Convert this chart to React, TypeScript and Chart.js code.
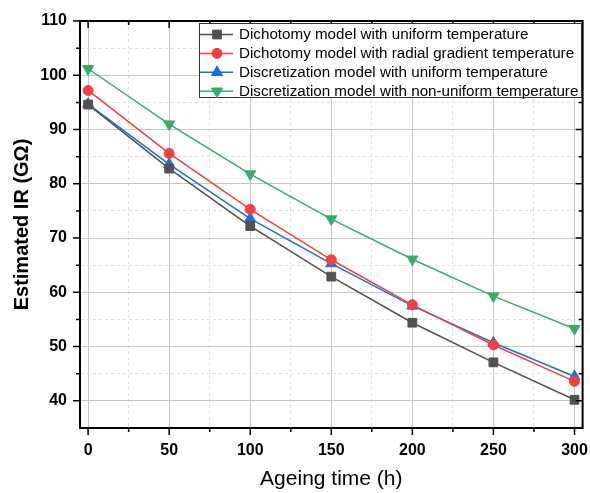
import React, { useEffect, useRef } from 'react';
import { Chart, registerables, PointElement } from 'chart.js';

Chart.register(...registerables);

const ageingTime = [0, 50, 100, 150, 200, 250, 300];
const dichotomyUniform = [94.6, 82.8, 72.2, 62.9, 54.4, 47.1, 40.2];
const dichotomyRadial = [97.2, 85.6, 75.3, 66.0, 57.7, 50.3, 43.6];
const discretizationUniform = [94.7, 83.6, 73.6, 65.3, 57.5, 50.7, 44.5];
const discretizationNonUniform = [101.2, 91.0, 81.8, 73.5, 66.1, 59.3, 53.3];

const seriesLabels = [
  'Dichotomy model with uniform temperature',
  'Dichotomy model with radial gradient temperature',
  'Discretization model with uniform temperature',
  'Discretization model with non-uniform temperature',
];
const seriesColors = ['#515151', '#F14040', '#1A6FDF', '#37AD6B'];

const xTickValues = [0, 25, 50, 75, 100, 125, 150, 175, 200, 225, 250, 275, 300];
const yTickValues = [40, 45, 50, 55, 60, 65, 70, 75, 80, 85, 90, 95, 100, 105, 110];

const FONT = '"Liberation Sans", Arial, Helvetica, sans-serif';

export default function App() {
  const ref = useRef<HTMLCanvasElement>(null);

  useEffect(() => {
    const canvas = ref.current;
    if (!canvas) return;

    const toPoints = (vals: number[]) => ageingTime.map((x, i) => ({ x, y: vals[i] }));
    const seriesValues = [dichotomyUniform, dichotomyRadial, discretizationUniform, discretizationNonUniform];
    const styles = [
      { pointStyle: 'rect', radius: 6.2, rotation: 0 },
      { pointStyle: 'circle', radius: 5, rotation: 0 },
      { pointStyle: 'triangle', radius: 6.4, rotation: 0 },
      { pointStyle: 'triangle', radius: 6.4, rotation: 180 },
    ];

    const datasets = seriesValues.map((vals, i) => ({
      label: seriesLabels[i],
      data: toPoints(vals),
      borderColor: seriesColors[i],
      backgroundColor: seriesColors[i],
      borderWidth: 1.5,
      pointStyle: styles[i].pointStyle as any,
      pointRadius: styles[i].radius,
      pointRotation: styles[i].rotation,
      pointBorderWidth: 1,
      pointBackgroundColor: seriesColors[i],
      pointBorderColor: seriesColors[i],
      tension: 0,
      fill: false,
    }));

    const framePlugin = {
      id: 'frameTicks',
      afterDraw(chart: any) {
        const { ctx, chartArea: a } = chart;
        const xs = chart.scales.x;
        const ys = chart.scales.y;
        ctx.save();
        ctx.strokeStyle = '#000';
        ctx.lineWidth = 2;
        ctx.beginPath();
        ctx.moveTo(a.left - 1, a.top);
        ctx.lineTo(a.right, a.top);
        ctx.lineTo(a.right, a.bottom + 1);
        ctx.stroke();
        ctx.lineWidth = 1.5;
        ctx.beginPath();
        xTickValues.forEach((v) => {
          const p = xs.getPixelForValue(v);
          const len = v % 50 === 0 ? 7 : 4;
          ctx.moveTo(p, a.bottom);
          ctx.lineTo(p, a.bottom + len);
          ctx.moveTo(p, a.top);
          ctx.lineTo(p, a.top + len);
        });
        yTickValues.forEach((v) => {
          const p = ys.getPixelForValue(v);
          const len = v % 10 === 0 ? 7 : 4;
          ctx.moveTo(a.left, p);
          ctx.lineTo(a.left - len, p);
          ctx.moveTo(a.right, p);
          ctx.lineTo(a.right - len, p);
        });
        ctx.stroke();
        ctx.restore();
      },
    };

    const legendPlugin = {
      id: 'boxLegend',
      afterDraw(chart: any) {
        const { ctx } = chart;
        const left = 199.5;
        const top = 23.5;
        const right = 581.5;
        const bottom = 97.5;
        ctx.save();
        ctx.fillStyle = '#fff';
        ctx.fillRect(left, top, right - left, bottom - top);
        ctx.strokeStyle = '#333';
        ctx.lineWidth = 1;
        ctx.strokeRect(left, top, right - left, bottom - top);
        ctx.font = `15.2px ${FONT}`;
        ctx.textBaseline = 'middle';
        ctx.textAlign = 'left';
        chart.data.datasets.forEach((ds: any, i: number) => {
          const cy = 34.5 + i * 18.9;
          ctx.strokeStyle = ds.borderColor;
          ctx.lineWidth = 1.5;
          ctx.beginPath();
          ctx.moveTo(200, cy);
          ctx.lineTo(233, cy);
          ctx.stroke();
          const pt = new (PointElement as any)({
            x: 217,
            y: cy,
            options: {
              pointStyle: ds.pointStyle,
              radius: ds.pointRadius,
              rotation: ds.pointRotation,
              borderWidth: 1,
              backgroundColor: ds.backgroundColor,
              borderColor: ds.borderColor,
            },
          });
          pt.draw(ctx);
          ctx.fillStyle = '#000';
          ctx.fillText(ds.label, 239, cy + 0.5);
        });
        ctx.restore();
      },
    };

    const chart = new Chart(canvas, {
      type: 'line',
      data: { datasets },
      options: {
        responsive: false,
        animation: false,
        layout: { padding: { top: 21, right: 6, left: 0, bottom: 0 } },
        plugins: {
          legend: { display: false },
          tooltip: { enabled: false },
        },
        scales: {
          x: {
            type: 'linear',
            min: -5,
            max: 305,
            afterBuildTicks: (s: any) => {
              s.ticks = xTickValues.map((v) => ({ value: v }));
            },
            afterFit: (s: any) => {
              s.height = 65;
              s.paddingLeft = 0;
              s.paddingRight = 0;
            },
            ticks: {
              autoSkip: false,
              maxRotation: 0,
              padding: 7,
              color: '#000',
              font: { family: FONT, size: 16, weight: 'bold' },
              callback: (v: any) => (Number(v) % 50 === 0 ? String(v) : ''),
            },
            grid: {
              color: (c: any) => (c.tick && c.tick.value % 50 === 0 ? '#c6c6c6' : '#e0e0e0'),
              lineWidth: 1,
              tickLength: 6,
              tickColor: 'rgba(0,0,0,0)',
            },
            border: {
              display: true,
              color: '#000',
              width: 2,
              dash: (c: any) => (c.tick && c.tick.value % 50 !== 0 ? [3, 3] : []),
            },
            title: {
              display: true,
              text: 'Ageing time (h)',
              color: '#000',
              font: { family: FONT, size: 21, weight: 'normal' },
              padding: { top: 0, bottom: 1 },
            },
          },
          y: {
            type: 'linear',
            min: 35,
            max: 110,
            afterBuildTicks: (s: any) => {
              s.ticks = yTickValues.map((v) => ({ value: v }));
            },
            afterFit: (s: any) => {
              s.width = 80;
              s.paddingTop = 0;
              s.paddingBottom = 0;
            },
            ticks: {
              autoSkip: false,
              padding: 7,
              color: '#000',
              font: { family: FONT, size: 16, weight: 'bold' },
              callback: (v: any) => (Number(v) % 10 === 0 ? String(v) : ''),
            },
            grid: {
              color: (c: any) => (c.tick && c.tick.value % 10 === 0 ? '#c6c6c6' : '#e0e0e0'),
              lineWidth: 1,
              tickLength: 6,
              tickColor: 'rgba(0,0,0,0)',
            },
            border: {
              display: true,
              color: '#000',
              width: 2,
              dash: (c: any) => (c.tick && c.tick.value % 10 !== 0 ? [3, 3] : []),
            },
            title: {
              display: true,
              text: 'Estimated IR (GΩ)',
              color: '#000',
              font: { family: FONT, size: 20, weight: 'bold' },
              padding: { top: 10, bottom: 0 },
            },
          },
        },
      } as any,
      plugins: [framePlugin, legendPlugin],
    });

    return () => chart.destroy();
  }, []);

  return (
    <div style={{ position: 'fixed', left: 0, top: 0, width: 590, height: 493, background: '#fff' }}>
      <canvas ref={ref} width={590} height={493} style={{ display: 'block', width: 590, height: 493 }} />
    </div>
  );
}
